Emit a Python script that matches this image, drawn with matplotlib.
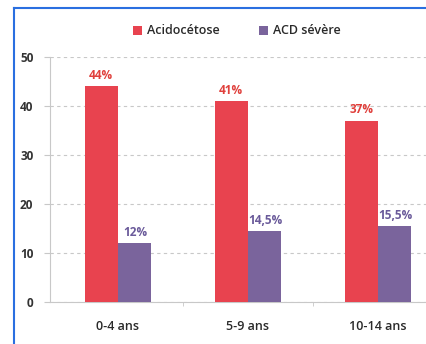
import matplotlib.pyplot as plt
import numpy as np
from matplotlib.lines import Line2D

categories = ["0-4 ans", "5-9 ans", "10-14 ans"]
acido = [44, 41, 37]
acd_severe = [12, 14.5, 15.5]
acido_labels = ["44%", "41%", "37%"]
acd_labels = ["12%", "14,5%", "15,5%"]

plt.rcParams['font.family'] = ['Open Sans', 'DejaVu Sans']

W, H = 427, 344
fig = plt.figure(figsize=(W / 100, H / 100), dpi=100)
fig.patch.set_facecolor('white')

# axes: x=0 -> px 50, 130 px per category, y=0 at px 302, 4.9 px per unit
x0, x1 = -0.52, 2.48
left = 50 / W
width = (x1 - x0) * 130 / W
bottom = (H - 302) / H
height = 50 * 4.9 / H
ax = fig.add_axes([left, bottom, width, height])

x = np.arange(len(categories))
bw = 0.254
red = '#e8434f'
purple = '#7a649c'
ax.bar(x - bw / 2, acido, bw, color=red, label='Acidocétose', zorder=3)
ax.bar(x + bw / 2, acd_severe, bw, color=purple, label='ACD sévère', zorder=3)

for i in range(len(categories)):
    ax.text(x[i] - bw / 2, acido[i] + 0.9, acido_labels[i], ha='center', va='bottom',
            color='#e0403c', fontsize=8.5, fontweight='bold')
    ax.text(x[i] + bw / 2 + 0.01, acd_severe[i] + 0.9, acd_labels[i], ha='center', va='bottom',
            color='#6a5a9a', fontsize=8.5, fontweight='bold')

ax.set_xlim(x0, x1)
ax.set_ylim(0, 50)
ax.set_yticks([0, 10, 20, 30, 40, 50])
ax.yaxis.grid(True, linestyle=(0, (3, 3)), color='#c8c8c8', linewidth=0.8, zorder=0)
ax.set_xticks(x)
ax.set_xticklabels(categories, fontsize=9, color='#2a2a2a', fontweight='semibold')
ax.tick_params(axis='x', length=0, pad=13)
ax.set_xticks([0.5, 1.5], minor=True)
ax.tick_params(axis='x', which='minor', length=3, color='#c8c8c8')
ax.tick_params(axis='y', length=4, color='#c8c8c8', labelsize=8.5, labelcolor='#333333', pad=8)
for lab in ax.get_yticklabels():
    lab.set_fontweight('bold')
for s in ['top', 'right']:
    ax.spines[s].set_visible(False)
ax.spines['left'].set_color('#c8c8c8')
ax.spines['bottom'].set_color('#c8c8c8')

fig.legend(loc='center', bbox_to_anchor=(237 / W, 1 - 31 / H), ncol=2, frameon=False,
           prop={'size': 9, 'weight': 'semibold'}, handlelength=0.7, handleheight=0.7,
           columnspacing=3.2, handletextpad=0.4, labelcolor='#2a2a2a')

# blue frame of the cropped picture
fig.add_artist(Line2D([14 / W, 14 / W], [0, 1 - 8 / H], color='#2a6fe0', linewidth=1.5))
fig.add_artist(Line2D([14 / W, 1], [1 - 8 / H, 1 - 8 / H], color='#2a6fe0', linewidth=1.5))

fig.savefig('out.png', dpi=100)
